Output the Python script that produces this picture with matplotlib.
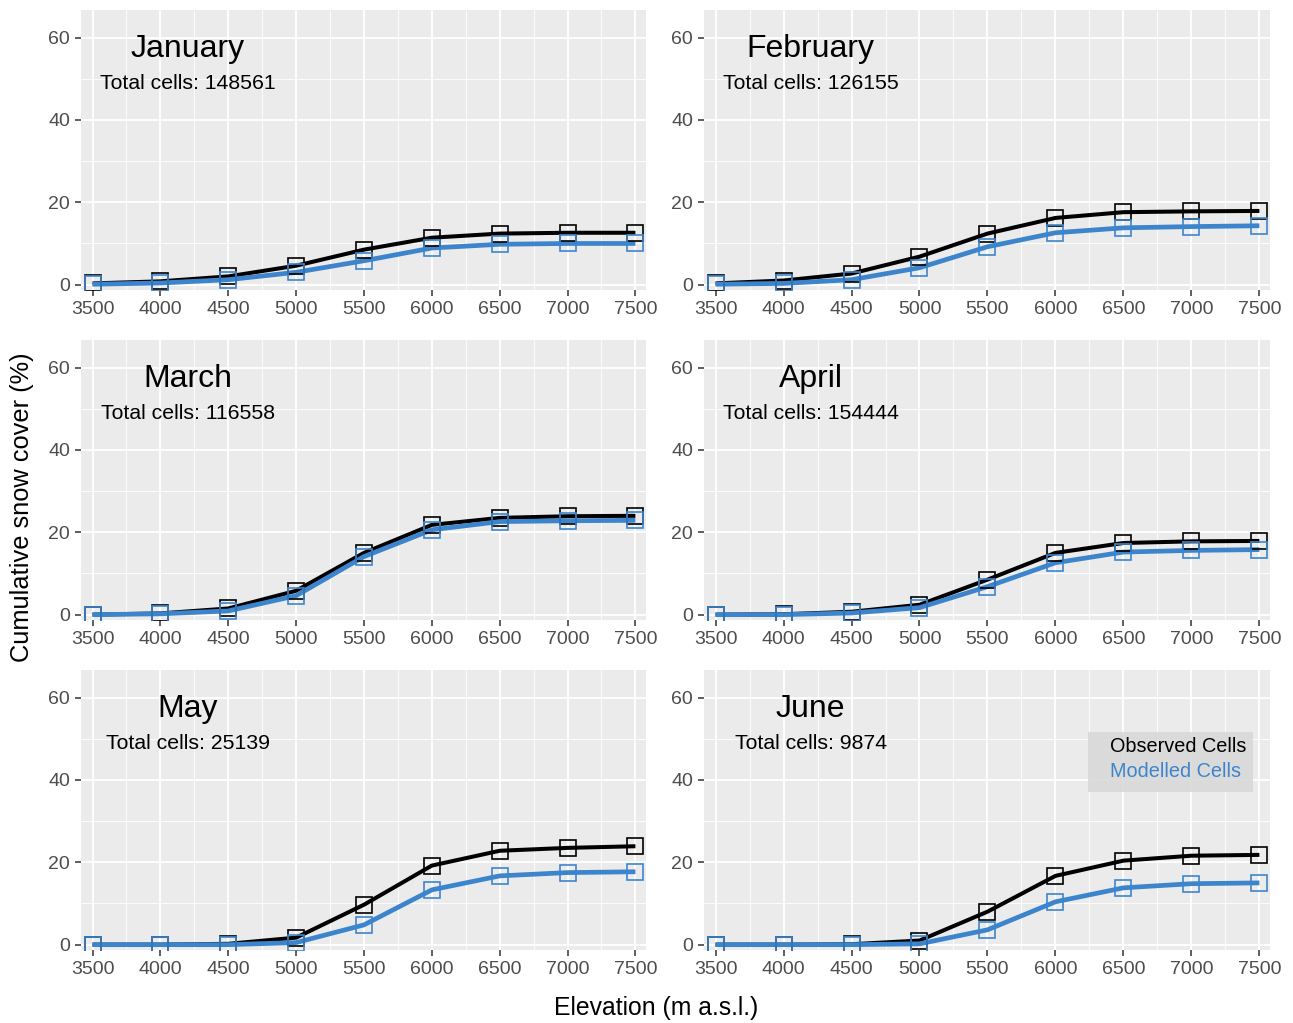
import numpy as np
import matplotlib
matplotlib.use('Agg')
import matplotlib.pyplot as plt
from matplotlib.patches import Rectangle

plt.rcParams['font.family'] = ['Liberation Sans', 'DejaVu Sans']

elevation = [3500, 4000, 4500, 5000, 5500, 6000, 6500, 7000, 7500]

months = ["January", "February", "March", "April", "May", "June"]
total_cells = [148561, 126155, 116558, 154444, 25139, 9874]

observed = {
    "January":  [0.3, 0.8, 2.0, 4.6, 8.5, 11.4, 12.4, 12.6, 12.6],
    "February": [0.3, 1.0, 2.7, 6.8, 12.4, 16.2, 17.6, 17.8, 17.9],
    "March":    [0.0, 0.3, 1.5, 5.8, 15.0, 21.8, 23.5, 23.9, 24.0],
    "April":    [0.0, 0.1, 0.7, 2.4, 8.5, 15.0, 17.4, 17.8, 17.9],
    "May":      [0.0, 0.0, 0.2, 1.7, 9.7, 19.2, 22.8, 23.5, 23.9],
    "June":     [0.0, 0.0, 0.1, 1.0, 8.0, 16.7, 20.4, 21.6, 21.8],
}
modelled = {
    "January":  [0.1, 0.4, 1.2, 3.0, 5.8, 8.9, 9.8, 10.0, 10.0],
    "February": [0.1, 0.3, 1.2, 4.1, 9.2, 12.6, 13.8, 14.1, 14.3],
    "March":    [0.0, 0.2, 0.9, 4.6, 14.1, 20.6, 22.6, 22.8, 22.9],
    "April":    [0.0, 0.0, 0.4, 1.7, 6.8, 12.6, 15.2, 15.6, 15.8],
    "May":      [0.0, 0.0, 0.0, 0.5, 4.8, 13.3, 16.7, 17.5, 17.7],
    "June":     [0.0, 0.0, 0.0, 0.2, 3.6, 10.4, 13.8, 14.8, 15.0],
}

BLUE = "#3C85CD"
W, H = 1293, 1023

fig = plt.figure(figsize=(W / 100, H / 100), dpi=100)
fig.patch.set_facecolor("white")

# panel boxes in pixels: (left, top, right, bottom)
lefts = [(81, 646), (704, 1270)]
rows = [(10, 290), (340, 620), (670, 950)]

for k, month in enumerate(months):
    r, c = divmod(k, 2)
    x0, x1 = lefts[c]
    y0, y1 = rows[r]
    ax = fig.add_axes([x0 / W, 1 - y1 / H, (x1 - x0) / W, (y1 - y0) / H])
    ax.set_facecolor("#EBEBEB")
    for s in ax.spines.values():
        s.set_visible(False)

    ax.set_xlim(3415, 7578)
    ax.set_ylim(-1.3, 66.7)
    ax.set_xticks(elevation)
    ax.set_xticks(np.arange(3750, 7500, 500), minor=True)
    ax.set_yticks([0, 20, 40, 60])
    ax.set_yticks([10, 30, 50], minor=True)
    ax.grid(which="major", color="white", lw=1.3)
    ax.grid(which="minor", color="white", lw=0.6)
    ax.set_axisbelow(True)
    ax.tick_params(which="major", length=4.5, width=1.1, color="#333333",
                   labelsize=14, labelcolor="#4D4D4D", pad=3.5)
    ax.tick_params(which="minor", length=0)

    ax.plot(elevation, observed[month], color="black", lw=2.9,
            solid_joinstyle="round", solid_capstyle="butt", zorder=3)
    ax.plot(elevation, modelled[month], color=BLUE, lw=3.4,
            solid_joinstyle="round", solid_capstyle="butt", zorder=3)
    ax.plot(elevation, observed[month], ls="none", marker="s", ms=11.5,
            mfc="none", mec="black", mew=1.2, zorder=4)
    ax.plot(elevation, modelled[month], ls="none", marker="s", ms=11.5,
            mfc="none", mec=BLUE, mew=1.2, zorder=4)

    ax.text(4200, 57.2, month, ha="center", va="center", fontsize=23,
            color="black")
    ax.text(4200, 48.8, f"Total cells: {total_cells[k]}", ha="center",
            va="center", fontsize=15.3, color="black")

    if month == "June":
        ax.add_patch(Rectangle((0.678, 0.565), 0.292, 0.213,
                               transform=ax.transAxes, facecolor="#D9D9D9",
                               edgecolor="none", alpha=0.9, zorder=2))
        ax.text(0.718, 0.728, "Observed Cells", transform=ax.transAxes,
                ha="left", va="center", fontsize=14.3, color="black", zorder=5)
        ax.text(0.718, 0.638, "Modelled Cells", transform=ax.transAxes,
                ha="left", va="center", fontsize=14.3, color=BLUE, zorder=5)

fig.text(22 / W, 1 - 507 / H, "Cumulative snow cover (%)", rotation=90,
         ha="center", va="center", fontsize=18.3)
fig.text(656 / W, 1 - 1008 / H, "Elevation (m a.s.l.)", ha="center",
         va="center", fontsize=17.8)

fig.savefig("out.png", dpi=100)
